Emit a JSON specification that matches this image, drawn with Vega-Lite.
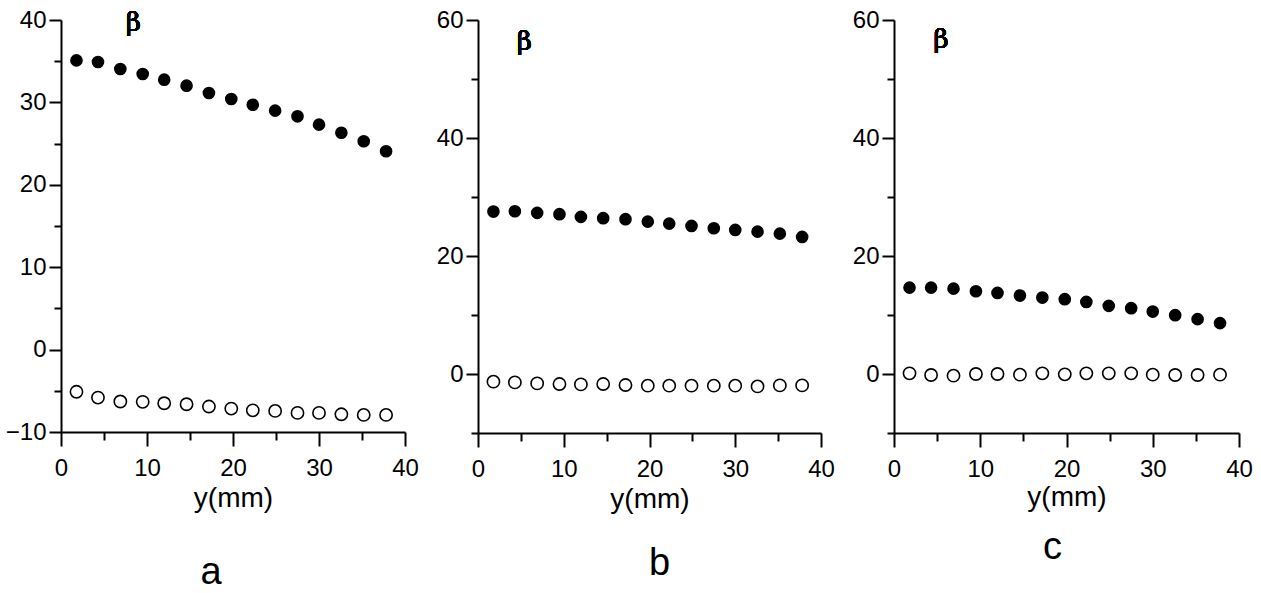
{
  "$schema": "https://vega.github.io/schema/vega-lite/v6.json",
  "padding": {"left": 5, "top": 8, "right": 5, "bottom": 0},
  "background": "white",
  "spacing": 17,
  "config": {
    "view": {"stroke": null},
    "axis": {
      "grid": false,
      "domainColor": "black",
      "domainWidth": 2,
      "tickColor": "black",
      "tickWidth": 2,
      "labelFont": "Liberation Sans",
      "labelFontSize": 24,
      "labelColor": "black",
      "titleFont": "Liberation Sans",
      "titleFontSize": 28,
      "titleFontWeight": "normal",
      "titleColor": "black",
      "labelFlush": false
    },
    "title": {"font": "Liberation Sans", "fontSize": 38, "fontWeight": "normal", "color": "black", "orient": "bottom"}
  },
  "datasets": {
    "pts": [
      {"p": "a", "s": "filled", "x": 1.8, "beta": 35.1},
      {"p": "a", "s": "filled", "x": 4.3, "beta": 34.9},
      {"p": "a", "s": "filled", "x": 6.9, "beta": 34.05},
      {"p": "a", "s": "filled", "x": 9.5, "beta": 33.45},
      {"p": "a", "s": "filled", "x": 12.0, "beta": 32.76},
      {"p": "a", "s": "filled", "x": 14.6, "beta": 32.03},
      {"p": "a", "s": "filled", "x": 17.2, "beta": 31.14},
      {"p": "a", "s": "filled", "x": 19.8, "beta": 30.41},
      {"p": "a", "s": "filled", "x": 22.3, "beta": 29.72},
      {"p": "a", "s": "filled", "x": 24.9, "beta": 29.0},
      {"p": "a", "s": "filled", "x": 27.5, "beta": 28.31},
      {"p": "a", "s": "filled", "x": 30.0, "beta": 27.3},
      {"p": "a", "s": "filled", "x": 32.6, "beta": 26.32},
      {"p": "a", "s": "filled", "x": 35.2, "beta": 25.28},
      {"p": "a", "s": "filled", "x": 37.8, "beta": 24.07},
      {"p": "a", "s": "open", "x": 1.8, "beta": -5.12},
      {"p": "a", "s": "open", "x": 4.3, "beta": -5.82},
      {"p": "a", "s": "open", "x": 6.9, "beta": -6.3},
      {"p": "a", "s": "open", "x": 9.5, "beta": -6.34},
      {"p": "a", "s": "open", "x": 12.0, "beta": -6.51},
      {"p": "a", "s": "open", "x": 14.6, "beta": -6.63},
      {"p": "a", "s": "open", "x": 17.2, "beta": -6.91},
      {"p": "a", "s": "open", "x": 19.8, "beta": -7.16},
      {"p": "a", "s": "open", "x": 22.3, "beta": -7.37},
      {"p": "a", "s": "open", "x": 24.9, "beta": -7.44},
      {"p": "a", "s": "open", "x": 27.5, "beta": -7.68},
      {"p": "a", "s": "open", "x": 30.0, "beta": -7.68},
      {"p": "a", "s": "open", "x": 32.6, "beta": -7.85},
      {"p": "a", "s": "open", "x": 35.2, "beta": -7.93},
      {"p": "a", "s": "open", "x": 37.8, "beta": -7.93},
      {"p": "b", "s": "filled", "x": 1.8, "beta": 27.53},
      {"p": "b", "s": "filled", "x": 4.3, "beta": 27.58},
      {"p": "b", "s": "filled", "x": 6.9, "beta": 27.31},
      {"p": "b", "s": "filled", "x": 9.5, "beta": 27.09},
      {"p": "b", "s": "filled", "x": 12.0, "beta": 26.63},
      {"p": "b", "s": "filled", "x": 14.6, "beta": 26.41},
      {"p": "b", "s": "filled", "x": 17.2, "beta": 26.24},
      {"p": "b", "s": "filled", "x": 19.8, "beta": 25.83},
      {"p": "b", "s": "filled", "x": 22.3, "beta": 25.49},
      {"p": "b", "s": "filled", "x": 24.9, "beta": 25.1},
      {"p": "b", "s": "filled", "x": 27.5, "beta": 24.71},
      {"p": "b", "s": "filled", "x": 30.0, "beta": 24.42},
      {"p": "b", "s": "filled", "x": 32.6, "beta": 24.13},
      {"p": "b", "s": "filled", "x": 35.2, "beta": 23.79},
      {"p": "b", "s": "filled", "x": 37.8, "beta": 23.23},
      {"p": "b", "s": "open", "x": 1.8, "beta": -1.3},
      {"p": "b", "s": "open", "x": 4.3, "beta": -1.42},
      {"p": "b", "s": "open", "x": 6.9, "beta": -1.59},
      {"p": "b", "s": "open", "x": 9.5, "beta": -1.7},
      {"p": "b", "s": "open", "x": 12.0, "beta": -1.76},
      {"p": "b", "s": "open", "x": 14.6, "beta": -1.7},
      {"p": "b", "s": "open", "x": 17.2, "beta": -1.87},
      {"p": "b", "s": "open", "x": 19.8, "beta": -1.98},
      {"p": "b", "s": "open", "x": 22.3, "beta": -1.98},
      {"p": "b", "s": "open", "x": 24.9, "beta": -1.98},
      {"p": "b", "s": "open", "x": 27.5, "beta": -1.98},
      {"p": "b", "s": "open", "x": 30.0, "beta": -1.98},
      {"p": "b", "s": "open", "x": 32.6, "beta": -2.1},
      {"p": "b", "s": "open", "x": 35.2, "beta": -1.93},
      {"p": "b", "s": "open", "x": 37.8, "beta": -1.93},
      {"p": "c", "s": "filled", "x": 1.8, "beta": 14.64},
      {"p": "c", "s": "filled", "x": 4.3, "beta": 14.64},
      {"p": "c", "s": "filled", "x": 6.9, "beta": 14.47},
      {"p": "c", "s": "filled", "x": 9.5, "beta": 14.03},
      {"p": "c", "s": "filled", "x": 12.0, "beta": 13.74},
      {"p": "c", "s": "filled", "x": 14.6, "beta": 13.29},
      {"p": "c", "s": "filled", "x": 17.2, "beta": 12.95},
      {"p": "c", "s": "filled", "x": 19.8, "beta": 12.68},
      {"p": "c", "s": "filled", "x": 22.3, "beta": 12.22},
      {"p": "c", "s": "filled", "x": 24.9, "beta": 11.55},
      {"p": "c", "s": "filled", "x": 27.5, "beta": 11.16},
      {"p": "c", "s": "filled", "x": 30.0, "beta": 10.58},
      {"p": "c", "s": "filled", "x": 32.6, "beta": 9.97},
      {"p": "c", "s": "filled", "x": 35.2, "beta": 9.3},
      {"p": "c", "s": "filled", "x": 37.8, "beta": 8.62},
      {"p": "c", "s": "open", "x": 1.8, "beta": 0.11},
      {"p": "c", "s": "open", "x": 4.3, "beta": -0.17},
      {"p": "c", "s": "open", "x": 6.9, "beta": -0.28},
      {"p": "c", "s": "open", "x": 9.5, "beta": 0.0},
      {"p": "c", "s": "open", "x": 12.0, "beta": 0.0},
      {"p": "c", "s": "open", "x": 14.6, "beta": -0.11},
      {"p": "c", "s": "open", "x": 17.2, "beta": 0.11},
      {"p": "c", "s": "open", "x": 19.8, "beta": -0.06},
      {"p": "c", "s": "open", "x": 22.3, "beta": 0.11},
      {"p": "c", "s": "open", "x": 24.9, "beta": 0.11},
      {"p": "c", "s": "open", "x": 27.5, "beta": 0.11},
      {"p": "c", "s": "open", "x": 30.0, "beta": -0.11},
      {"p": "c", "s": "open", "x": 32.6, "beta": -0.17},
      {"p": "c", "s": "open", "x": 35.2, "beta": -0.17},
      {"p": "c", "s": "open", "x": 37.8, "beta": -0.11}
    ]
  },
  "hconcat": [
    {
      "width": 344,
      "height": 412,
      "title": {"text": "a", "offset": 42, "dx": -22},
      "data": {"name": "pts"},
      "transform": [{"filter": "datum.p === 'a'"}],
      "resolve": {"axis": {"x": "independent", "y": "independent"}},
      "layer": [
        {"transform": [{"filter": "datum.s === 'filled'"}],
          "mark": {"type": "point", "shape": "circle", "filled": true, "color": "black", "opacity": 1, "size": 160},
          "encoding": {
            "x": {"field": "x", "type": "quantitative", "scale": {"domain": [0, 40], "nice": false, "zero": false},
              "axis": {"orient": "bottom", "title": "y(mm)", "values": [0, 10, 20, 30, 40], "tickSize": 14, "labelPadding": 10, "titlePadding": 4}},
            "y": {"field": "beta", "type": "quantitative", "scale": {"domain": [-10, 40], "nice": false, "zero": false},
              "axis": {"orient": "left", "title": null, "values": [-10, 0, 10, 20, 30, 40], "tickSize": 12, "labelPadding": 3}}
          }},
        {"transform": [{"filter": "datum.s === 'open'"}],
          "mark": {"type": "point", "shape": "circle", "filled": false, "stroke": "black", "strokeWidth": 1.6, "opacity": 1, "size": 150},
          "encoding": {
            "x": {"field": "x", "type": "quantitative",
              "axis": {"orient": "bottom", "title": null, "values": [5, 15, 25, 35], "tickSize": 8, "labels": false, "domain": false}},
            "y": {"field": "beta", "type": "quantitative",
              "axis": {"orient": "left", "title": null, "values": [-5, 5, 15, 25, 35], "tickSize": 7, "labels": false, "domain": false}}
          }},
        {"mark": {"type": "text", "text": "β", "font": "DejaVu Serif", "fontWeight": "normal", "fontSize": 26, "color": "black", "baseline": "middle"},
          "encoding": {"x": {"datum": 8.4, "type": "quantitative", "axis": null}, "y": {"datum": 39.6, "type": "quantitative", "axis": null}}}
      ]
    },
    {
      "width": 343,
      "height": 413,
      "title": {"text": "b", "offset": 32, "dx": 10},
      "data": {"name": "pts"},
      "transform": [{"filter": "datum.p === 'b'"}],
      "resolve": {"axis": {"x": "independent", "y": "independent"}},
      "layer": [
        {"transform": [{"filter": "datum.s === 'filled'"}],
          "mark": {"type": "point", "shape": "circle", "filled": true, "color": "black", "opacity": 1, "size": 160},
          "encoding": {
            "x": {"field": "x", "type": "quantitative", "scale": {"domain": [0, 40], "nice": false, "zero": false},
              "axis": {"orient": "bottom", "title": "y(mm)", "values": [0, 10, 20, 30, 40], "tickSize": 14, "labelPadding": 10, "titlePadding": 4}},
            "y": {"field": "beta", "type": "quantitative", "scale": {"domain": [-10, 60], "nice": false, "zero": false},
              "axis": {"orient": "left", "title": null, "values": [0, 20, 40, 60], "tickSize": 12, "labelPadding": 3}}
          }},
        {"transform": [{"filter": "datum.s === 'open'"}],
          "mark": {"type": "point", "shape": "circle", "filled": false, "stroke": "black", "strokeWidth": 1.6, "opacity": 1, "size": 150},
          "encoding": {
            "x": {"field": "x", "type": "quantitative",
              "axis": {"orient": "bottom", "title": null, "values": [5, 15, 25, 35], "tickSize": 8, "labels": false, "domain": false}},
            "y": {"field": "beta", "type": "quantitative",
              "axis": {"orient": "left", "title": null, "values": [-10, 10, 30, 50], "tickSize": 7, "labels": false, "domain": false}}
          }},
        {"mark": {"type": "text", "text": "β", "font": "DejaVu Serif", "fontWeight": "normal", "fontSize": 26, "color": "black", "baseline": "middle"},
          "encoding": {"x": {"datum": 5.4, "type": "quantitative", "axis": null}, "y": {"datum": 56.3, "type": "quantitative", "axis": null}}}
      ]
    },
    {
      "width": 345,
      "height": 413,
      "title": {"text": "c", "offset": 18, "dx": -14},
      "data": {"name": "pts"},
      "transform": [{"filter": "datum.p === 'c'"}],
      "resolve": {"axis": {"x": "independent", "y": "independent"}},
      "layer": [
        {"transform": [{"filter": "datum.s === 'filled'"}],
          "mark": {"type": "point", "shape": "circle", "filled": true, "color": "black", "opacity": 1, "size": 160},
          "encoding": {
            "x": {"field": "x", "type": "quantitative", "scale": {"domain": [0, 40], "nice": false, "zero": false},
              "axis": {"orient": "bottom", "title": "y(mm)", "values": [0, 10, 20, 30, 40], "tickSize": 14, "labelPadding": 10, "titlePadding": 2}},
            "y": {"field": "beta", "type": "quantitative", "scale": {"domain": [-10, 60], "nice": false, "zero": false},
              "axis": {"orient": "left", "title": null, "values": [0, 20, 40, 60], "tickSize": 12, "labelPadding": 3}}
          }},
        {"transform": [{"filter": "datum.s === 'open'"}],
          "mark": {"type": "point", "shape": "circle", "filled": false, "stroke": "black", "strokeWidth": 1.6, "opacity": 1, "size": 150},
          "encoding": {
            "x": {"field": "x", "type": "quantitative",
              "axis": {"orient": "bottom", "title": null, "values": [5, 15, 25, 35], "tickSize": 8, "labels": false, "domain": false}},
            "y": {"field": "beta", "type": "quantitative",
              "axis": {"orient": "left", "title": null, "values": [-10, 10, 30, 50], "tickSize": 7, "labels": false, "domain": false}}
          }},
        {"mark": {"type": "text", "text": "β", "font": "DejaVu Serif", "fontWeight": "normal", "fontSize": 26, "color": "black", "baseline": "middle"},
          "encoding": {"x": {"datum": 5.45, "type": "quantitative", "axis": null}, "y": {"datum": 56.6, "type": "quantitative", "axis": null}}}
      ]
    }
  ]
}
